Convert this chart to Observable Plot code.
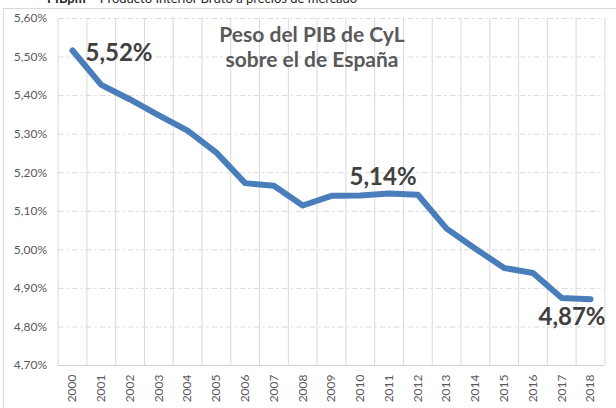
<!DOCTYPE html>
<html>
<head>
<meta charset="utf-8">
<script src="https://cdn.jsdelivr.net/npm/d3@7"></script>
<script src="https://cdn.jsdelivr.net/npm/@observablehq/plot@0.6"></script>
<style>
  body { margin: 0; background: #fff; }
  #wrap { position: relative; width: 616px; height: 408px; overflow: hidden; font-family: Lato, "Open Sans", sans-serif; }
  #frame { position: absolute; left: 3px; top: 8px; width: 660px; height: 460px; border: 1px solid #d9d9d9; box-sizing: border-box; }
  #header { position: absolute; left: 47px; top: -8px; font-size: 13px; line-height: 13px; color: #262626; white-space: nowrap; }
  #title { position: absolute; left: 212px; width: 200px; top: 20.8px; text-align: center; font-weight: bold; font-size: 21px; line-height: 25.6px; color: #595959; white-space: nowrap; }
  #chart { position: absolute; left: 0; top: 0; }
</style>
</head>
<body>
<div id="wrap">
  <div id="frame"></div>
  <div id="chart"></div>
  <div id="header"><b>PIBpm</b> – Producto Interior Bruto a precios de mercado</div>
  <div id="title">Peso del PIB de CyL<br>sobre el de España</div>
</div>
<script>
const years = [2000, 2001, 2002, 2003, 2004, 2005, 2006, 2007, 2008, 2009, 2010, 2011, 2012, 2013, 2014, 2015, 2016, 2017, 2018];
const values = [5.517, 5.428, 5.39, 5.349, 5.309, 5.252, 5.173, 5.166, 5.115, 5.14, 5.141, 5.146, 5.143, 5.055, 5.003, 4.953, 4.94, 4.875, 4.872];
const yTicks = [4.7, 4.8, 4.9, 5.0, 5.1, 5.2, 5.3, 5.4, 5.5, 5.6];
const annYears = [2000, 2011, 2018];
const annLabels = ["5,52%", "5,14%", "4,87%"];

const data = years.map((year, i) => ({ year, value: values[i] }));
const ann = annYears.map((year, i) => ({ year, value: values[years.indexOf(year)], label: annLabels[i] }));
const bounds = years.map(y => y - 0.5).concat([years[years.length - 1] + 0.5]);
const fmtPct = d => d.toFixed(2).replace(".", ",") + "%";

const chart = Plot.plot({
  width: 616,
  height: 408,
  marginLeft: 57.6,
  marginRight: 11.6,
  marginTop: 18,
  marginBottom: 43,
  style: { fontFamily: "Lato, 'Open Sans', sans-serif", background: "transparent", overflow: "visible" },
  x: { domain: [1999.5, 2018.5] },
  y: { domain: [4.7, 5.6] },
  marks: [
    Plot.ruleY(yTicks.slice(1), { stroke: "#d9d9d9", strokeWidth: 1, strokeDasharray: "6,3,2,3" }),
    Plot.ruleX(bounds, { stroke: "#d9d9d9", strokeWidth: 1 }),
    Plot.ruleY([yTicks[0]], { stroke: "#d0d0d0", strokeWidth: 1 }),
    Plot.axisY({ ticks: yTicks, tickSize: 0, tickPadding: 11, tickFormat: fmtPct, fontSize: 12, color: "#595959", label: null }),
    Plot.axisX({ ticks: years, tickSize: 0, tickPadding: 9, tickRotate: -90, tickFormat: d => String(d), fontSize: 12, color: "#595959", label: null }),
    Plot.line(data, { x: "year", y: "value", stroke: "#4a7ebb", strokeWidth: 6, strokeLinejoin: "round", strokeLinecap: "round" }),
    Plot.text(ann.slice(0, 1), { x: "year", y: "value", text: "label", textAnchor: "start", dx: 13, dy: 2.8, fontSize: 24, fontWeight: "bold", fill: "#404040" }),
    Plot.text(ann.slice(1, 2), { x: "year", y: "value", text: "label", textAnchor: "middle", dx: -6, dy: -16.5, fontSize: 24, fontWeight: "bold", fill: "#404040" }),
    Plot.text(ann.slice(2, 3), { x: "year", y: "value", text: "label", textAnchor: "middle", dx: -18.5, dy: 18.6, fontSize: 24, fontWeight: "bold", fill: "#404040" })
  ]
});
document.getElementById("chart").appendChild(chart);
</script>
</body>
</html>
